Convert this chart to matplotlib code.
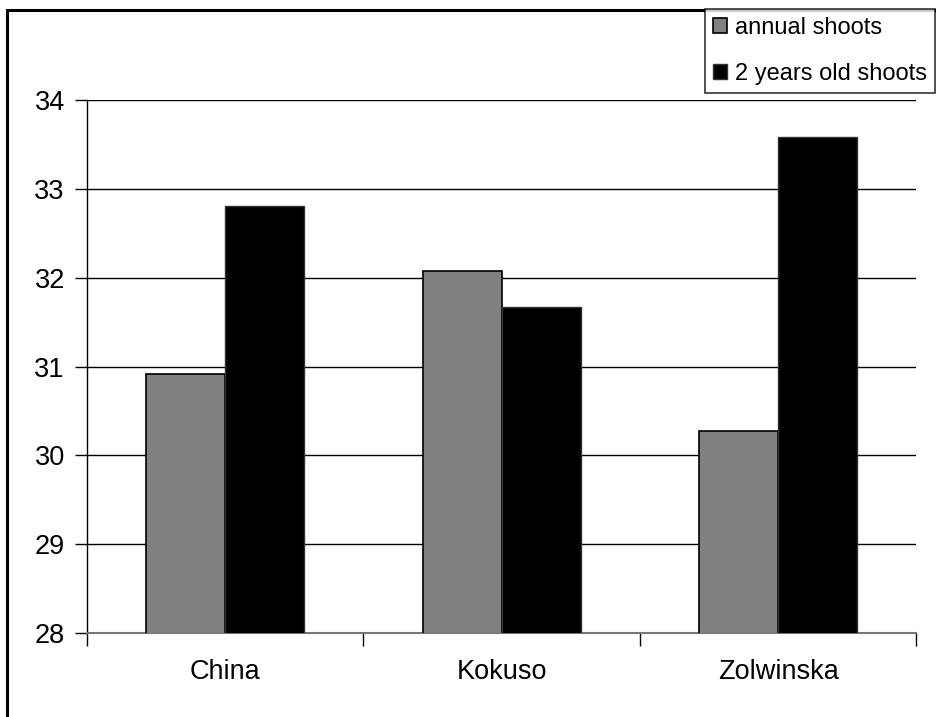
import matplotlib
matplotlib.use("Agg")
import matplotlib.pyplot as plt
from matplotlib.patches import Rectangle
import numpy as np

# values
categories = ["China", "Kokuso", "Zolwinska"]
annual = [30.92, 32.08, 30.28]
two_year = [32.81, 31.67, 33.58]
series_names = ["annual shoots", "2 years old shoots"]
yticks = [28, 29, 30, 31, 32, 33, 34]

plt.rcParams['font.family'] = ['Liberation Sans', 'DejaVu Sans']

fig = plt.figure(figsize=(9.36, 7.17), dpi=100)
ax = fig.add_axes([0.093, 0.117, 0.886, 0.7435])

x = np.arange(len(categories))
w = 0.286
ax.bar(x - w / 2, annual, w, bottom=0, color="#808080", edgecolor="black",
       linewidth=1.2, label=series_names[0], zorder=3)
ax.bar(x + w / 2, two_year, w, bottom=0, color="black", edgecolor="#333333",
       linewidth=1.0, label=series_names[1], zorder=3)

ax.set_xlim(-0.5, len(categories) - 0.5)
ax.set_ylim(28, 34)
ax.set_yticks(yticks)
ax.set_yticklabels([str(t) for t in yticks], fontsize=19.5)
ax.yaxis.grid(True, color="black", linewidth=1.0, zorder=0)

# category labels between boundary ticks
ax.set_xticks(np.arange(len(categories) + 1) - 0.5)
ax.set_xticklabels([])
ax.set_xticks(x, minor=True)
ax.set_xticklabels(categories, minor=True, fontsize=19.5)
ax.tick_params(axis="x", which="minor", length=0, pad=19)
ax.tick_params(axis="x", which="major", length=9, width=1, direction="out")
ax.tick_params(axis="y", length=9, width=1, direction="out", pad=7)

for s in ["top", "right"]:
    ax.spines[s].set_visible(False)
ax.spines["left"].set_linewidth(1.0)
ax.spines["bottom"].set_color("#777777")
ax.spines["bottom"].set_linewidth(1.5)

# outer frame of the figure (runs off the right and bottom edges)
fig.patches.append(Rectangle((7 / 936, -0.02), 1.05, 1.02 - 10 / 717,
                             transform=fig.transFigure, fill=False,
                             edgecolor="black", linewidth=2.2))

leg = fig.legend(loc="upper left", bbox_to_anchor=(705 / 936, 1 - 9 / 717),
                 fontsize=17, frameon=True, fancybox=False, edgecolor="black",
                 handlelength=0.6, handleheight=0.6, handletextpad=0.3,
                 borderpad=0.35, labelspacing=1.0, borderaxespad=0)
leg.get_frame().set_linewidth(1.2)

fig.savefig("out.png", dpi=100)
